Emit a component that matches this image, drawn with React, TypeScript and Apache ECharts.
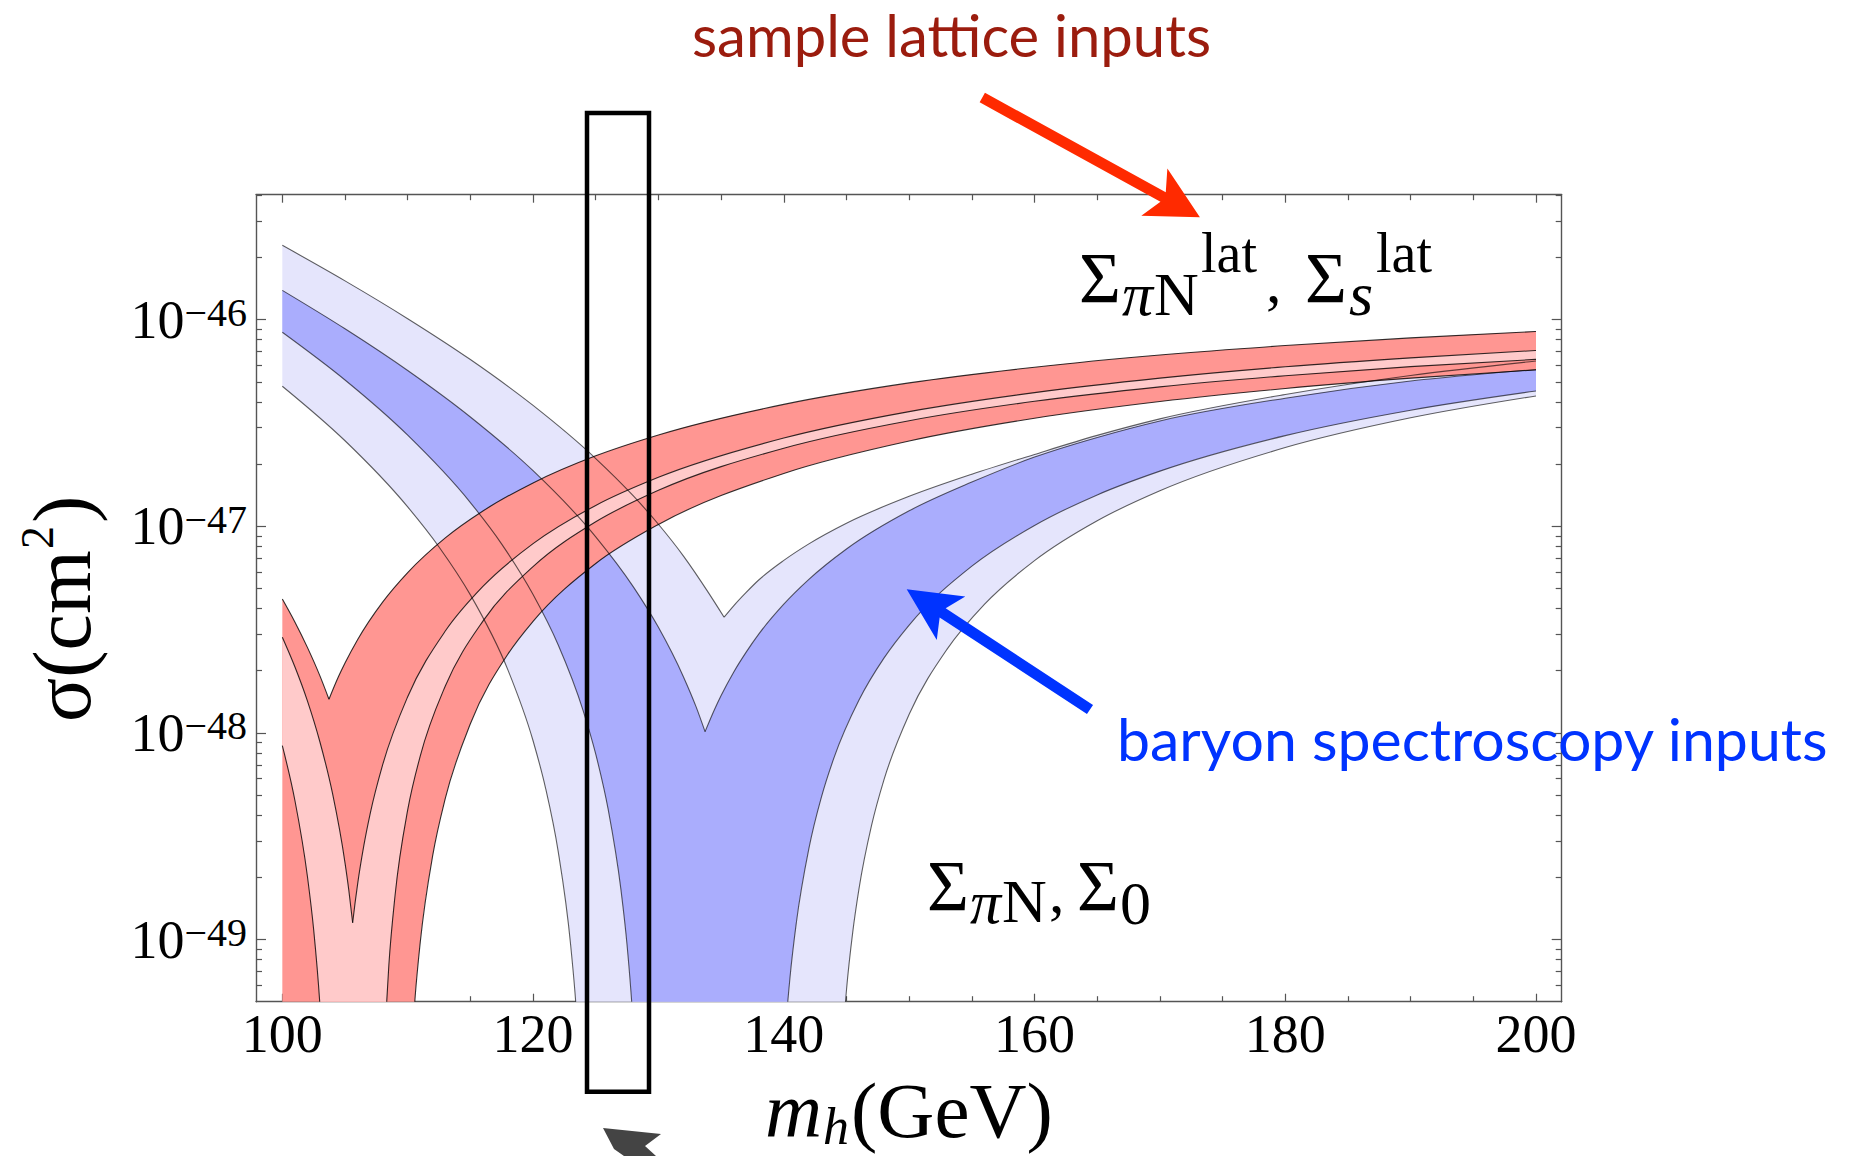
import React, { useEffect, useRef } from "react";
import * as echarts from "echarts";

// ---------- axes (x: m_h in GeV, y: log10 sigma in cm^2) ----------
const X_RANGE = [97.9, 202.05];
const Y_RANGE = [-49.301, -45.395];
const Y_BELOW = -50.2;
const X_MAJOR = [100, 120, 140, 160, 180, 200];
const X_MINOR = [105, 110, 115, 125, 130, 135, 145, 150, 155, 165, 170, 175, 185, 190, 195];
const Y_MAJOR = [-49, -48, -47, -46];
const Y_DECADES = [-50, -49, -48, -47, -46];
const Y_MINOR_MULT = [2, 3, 4, 5, 6, 7, 8, 9];

// ---------- baryon spectroscopy inputs (blue) ----------
// light band, upper edge: left branch to the cusp, right branch from the cusp
const LB_UP_L = [
  [100, -45.64], [105, -45.812], [110, -45.995], [115, -46.193], [120, -46.415], [125, -46.672],
  [128, -46.853], [130, -46.99], [132, -47.144], [134, -47.322], [135.24, -47.44],
];
const LB_UP_R = [
  [135.24, -47.44], [136, -47.385], [137, -47.32], [138, -47.26], [140, -47.165], [142, -47.085],
  [145, -46.985], [150, -46.855], [155, -46.748], [160, -46.652], [165, -46.56], [170, -46.48],
  [180, -46.362], [190, -46.27], [200, -46.2],
];
const DB_UP_L = [
  [100, -45.858], [105, -46.044], [110, -46.246], [115, -46.471], [120, -46.731], [125, -47.051],
  [128, -47.293], [130, -47.489], [132, -47.729], [133, -47.873], [133.72, -47.994],
];
const DB_UP_R = [
  [133.72, -47.994], [134.5, -47.883], [135, -47.819], [136, -47.706], [137, -47.609], [138, -47.522],
  [140, -47.377], [142, -47.257], [145, -47.11], [150, -46.925], [155, -46.786], [160, -46.665],
  [165, -46.57], [170, -46.49], [180, -46.38], [190, -46.297], [200, -46.241],
];
const DB_LO_L = [
  [100, -46.061], [105, -46.292], [110, -46.559], [115, -46.885], [117.5, -47.086], [120, -47.33],
  [122, -47.573], [124, -47.893], [125, -48.103], [126, -48.373], [127, -48.754], [127.5, -49.028],
  [128, -49.426], [128.3, -49.79],
];
const DB_LO_R = [
  [140.0, -49.563], [140.2, -49.389], [140.5, -49.18], [141, -48.919], [142, -48.56], [143, -48.311],
  [144, -48.121], [146, -47.841], [148, -47.637], [150, -47.478], [155, -47.193], [160, -46.996],
  [165, -46.848], [170, -46.733], [180, -46.561], [190, -46.438], [200, -46.345],
];
const LB_LO_L = [
  [100, -46.322], [105, -46.586], [110, -46.906], [112.5, -47.1], [115, -47.332], [118, -47.696],
  [120, -48.038], [121, -48.268], [122, -48.572], [123, -49.028], [123.5, -49.388], [124, -50.0],
];
const LB_LO_R = [
  [144.4, -49.787], [144.6, -49.565], [145, -49.244], [145.5, -48.964], [146, -48.754], [147, -48.448],
  [148, -48.225], [150, -47.91], [153, -47.597], [156, -47.378], [160, -47.166], [165, -46.973],
  [170, -46.828], [180, -46.619], [190, -46.475], [200, -46.369],
];

// ---------- sample lattice inputs (red) ----------
const DR_UP_L = [[100, -47.352], [101, -47.463], [102, -47.586], [103, -47.724], [103.72, -47.837]];
const DR_UP_R = [
  [103.72, -47.837], [104.5, -47.725], [105, -47.662], [106, -47.549], [108, -47.367], [110, -47.224],
  [113, -47.056], [116, -46.926], [120, -46.79], [125, -46.659], [130, -46.558], [140, -46.41],
  [150, -46.306], [160, -46.23], [170, -46.171], [180, -46.125], [190, -46.088], [200, -46.057],
];
const DR_LO_L = [[100, Y_BELOW]];
const DR_LO_R = [
  [110.4, -49.441], [110.6, -49.273], [111, -49.014], [112, -48.592], [113, -48.317], [115, -47.956],
  [118, -47.618], [120, -47.46], [125, -47.18], [130, -46.991], [140, -46.744], [150, -46.587],
  [160, -46.477], [170, -46.396], [180, -46.333], [190, -46.283], [200, -46.243],
];
const LR_UP_L = [
  [100, -47.537], [101, -47.68], [102, -47.845], [103, -48.044], [104, -48.292], [105, -48.629],
  [105.3, -48.76], [105.61, -48.919],
];
const LR_UP_R = [
  [105.61, -48.919], [105.8, -48.824], [106, -48.734], [106.5, -48.546], [107, -48.393], [108, -48.155],
  [110, -47.825], [113, -47.507], [116, -47.291], [120, -47.084], [125, -46.899], [130, -46.763],
  [140, -46.573], [150, -46.445], [160, -46.353], [170, -46.283], [180, -46.228], [190, -46.185],
  [200, -46.149],
];
const LR_LO_L = [
  [100, -48.062], [101, -48.326], [102, -48.694], [102.5, -48.953], [103, -49.318], [103.3, -49.639],
];
const LR_LO_R = [
  [108.2, -49.433], [108.5, -49.121], [109, -48.782], [110, -48.373], [111, -48.112], [113, -47.773],
  [116, -47.459], [120, -47.195], [125, -46.978], [130, -46.826], [140, -46.622], [150, -46.489],
  [160, -46.395], [170, -46.325], [180, -46.271], [190, -46.227], [200, -46.192],
];

const SERIF = "'Liberation Serif','Times New Roman',serif";
const SANS = "Lato,'Open Sans',sans-serif";

// monotone-in-x cubic drawing of a pixel polyline (rendering only)
function monotone(ctx: any, pts: number[][], first: boolean) {
  const n = pts.length;
  if (first) ctx.moveTo(pts[0][0], pts[0][1]);
  else ctx.lineTo(pts[0][0], pts[0][1]);
  if (n < 2) return;
  if (n === 2) {
    ctx.lineTo(pts[1][0], pts[1][1]);
    return;
  }
  const h: number[] = [];
  const s: number[] = [];
  for (let i = 0; i < n - 1; i++) {
    h[i] = pts[i + 1][0] - pts[i][0];
    s[i] = h[i] !== 0 ? (pts[i + 1][1] - pts[i][1]) / h[i] : 0;
  }
  const t: number[] = new Array(n).fill(0);
  for (let i = 1; i < n - 1; i++) {
    const p = (s[i - 1] * h[i] + s[i] * h[i - 1]) / (h[i - 1] + h[i]);
    t[i] = (Math.sign(s[i - 1]) + Math.sign(s[i])) * Math.min(Math.abs(s[i - 1]), Math.abs(s[i]), 0.5 * Math.abs(p)) || 0;
  }
  t[0] = (3 * s[0] - t[1]) / 2;
  t[n - 1] = (3 * s[n - 2] - t[n - 2]) / 2;
  for (let i = 0; i < n - 1; i++) {
    const dx = h[i] / 3;
    ctx.bezierCurveTo(
      pts[i][0] + dx, pts[i][1] + dx * t[i],
      pts[i + 1][0] - dx, pts[i + 1][1] - dx * t[i + 1],
      pts[i + 1][0], pts[i + 1][1]
    );
  }
}

const BandShape = (echarts as any).graphic.extendShape({
  type: "bandShape",
  shape: { parts: [], close: true },
  buildPath(ctx: any, shape: any) {
    const parts = shape.parts || [];
    parts.forEach((part: number[][], i: number) => {
      if (part && part.length) monotone(ctx, part, i === 0);
    });
    if (shape.close) ctx.closePath();
  },
});
(echarts as any).graphic.registerShape("bandShape", BandShape);

function band(name: string, upper: number[][][], lower: number[][][], fill: string, z: number) {
  const parts = [...upper, ...lower.slice().reverse().map((p) => p.slice().reverse())];
  return {
    type: "custom",
    name,
    xAxisIndex: 0,
    yAxisIndex: 0,
    clip: true,
    silent: true,
    z,
    data: [[150, -47]],
    renderItem: (_p: any, api: any) => ({
      type: "bandShape",
      shape: { parts: parts.map((part) => part.map((pt) => api.coord(pt))), close: true },
      style: { fill, stroke: "none" },
    }),
  };
}

function curves(list: [number[][], string][]) {
  return {
    type: "custom",
    name: "edges",
    xAxisIndex: 0,
    yAxisIndex: 0,
    clip: true,
    silent: true,
    z: 10,
    data: [[150, -47]],
    renderItem: (_p: any, api: any) => ({
      type: "group",
      children: list.map(([pts, color]) => ({
        type: "bandShape",
        shape: { parts: [pts.map((pt) => api.coord(pt))], close: false },
        style: { fill: "none", stroke: color, lineWidth: 1.1 },
      })),
    }),
  };
}

let measureCtx: CanvasRenderingContext2D | null = null;
function tw(text: string, font: string) {
  if (!measureCtx) measureCtx = document.createElement("canvas").getContext("2d");
  if (!measureCtx) return text.length * 30;
  measureCtx.font = font;
  return measureCtx.measureText(text).width;
}
const fontOf = (size: number, italic = false, family = SERIF) => `${italic ? "italic " : ""}${size}px ${family}`;

function txt(text: string, x: number, base: number, size: number, opt: any = {}) {
  const family = opt.family || SERIF;
  const k = opt.k ?? (family === SERIF ? 0.34 : 0.39);
  const rot = opt.rotation || 0;
  return {
    type: "text",
    z: 100,
    silent: true,
    x: rot ? base - k * size : x,
    y: rot ? x : base - k * size,
    rotation: rot,
    style: {
      text,
      fill: opt.color || "#000",
      font: fontOf(size, !!opt.italic, family),
      textAlign: "left",
      align: "left",
      textVerticalAlign: "middle",
      verticalAlign: "middle",
    },
  };
}

function arrow(tail: number[], tip: number[], shaftW: number, headLen: number, headW: number, notch: number, color: string) {
  const dx = tip[0] - tail[0], dy = tip[1] - tail[1];
  const L = Math.hypot(dx, dy);
  const ux = dx / L, uy = dy / L;
  const nx = -uy, ny = ux;
  const P = (a: number, b: number) => [tip[0] - ux * a + nx * b, tip[1] - uy * a + ny * b];
  const pts = [
    [tail[0] + nx * shaftW / 2, tail[1] + ny * shaftW / 2],
    P(headLen - notch, shaftW / 2),
    P(headLen, headW),
    tip,
    P(headLen, -headW),
    P(headLen - notch, -shaftW / 2),
    [tail[0] - nx * shaftW / 2, tail[1] - ny * shaftW / 2],
  ];
  return { type: "polygon", z: 100, silent: true, shape: { points: pts }, style: { fill: color } };
}

export default function App() {
  const ref = useRef<HTMLDivElement>(null);
  useEffect(() => {
    if (!ref.current) return;
    const chart = echarts.init(ref.current, undefined, { renderer: "svg" });
    const yMinor = Y_DECADES.flatMap((d) => Y_MINOR_MULT.map((k) => d + Math.log10(k))).filter(
      (v) => v > Y_RANGE[0] && v < Y_RANGE[1]
    );
    const frame = { show: true, onZero: false, lineStyle: { color: "#555", width: 1.4 } };
    const tickStyle = { color: "#555", width: 1.2 };
    const xBase = { type: "value", min: X_RANGE[0], max: X_RANGE[1], splitLine: { show: false } };
    const yBase = { type: "value", min: Y_RANGE[0], max: Y_RANGE[1], splitLine: { show: false } };
    const noLabel = { show: false };

    const piW = tw("\u03C0", fontOf(62, true));
    const mW = tw("m", fontOf(79, true));
    const hW = tw("h", fontOf(52, true));
    const blueEdge = "rgba(0,0,0,0.62)";
    const redEdge = "rgba(0,0,0,0.8)";

    const option: any = {
      animation: false,
      backgroundColor: "#fff",
      grid: { left: 256, top: 194.7, width: 1305.7, height: 807 },
      xAxis: [
        {
          ...xBase, position: "bottom", axisLine: frame,
          axisTick: { show: true, inside: true, length: 8, customValues: X_MAJOR, lineStyle: tickStyle },
          axisLabel: { show: true, customValues: X_MAJOR, fontFamily: SERIF, fontSize: 54, color: "#000", margin: 5 },
        },
        {
          ...xBase, position: "bottom", axisLine: { show: false },
          axisTick: { show: true, inside: true, length: 5.5, customValues: X_MINOR, lineStyle: tickStyle },
          axisLabel: noLabel,
        },
        {
          ...xBase, position: "top", axisLine: frame,
          axisTick: { show: true, inside: true, length: 8, customValues: X_MAJOR, lineStyle: tickStyle },
          axisLabel: noLabel,
        },
        {
          ...xBase, position: "top", axisLine: { show: false },
          axisTick: { show: true, inside: true, length: 5.5, customValues: X_MINOR, lineStyle: tickStyle },
          axisLabel: noLabel,
        },
      ],
      yAxis: [
        {
          ...yBase, position: "left", axisLine: frame,
          axisTick: { show: true, inside: true, length: 10, customValues: Y_MAJOR, lineStyle: tickStyle },
          axisLabel: {
            show: true, customValues: Y_MAJOR, margin: 9,
            formatter: (v: number) => `{b|10}{s|\u2212${Math.round(-v)}}`,
            rich: {
              b: { fontFamily: SERIF, fontSize: 54, color: "#000", lineHeight: 54 },
              s: { fontFamily: SERIF, fontSize: 40, color: "#000", lineHeight: 22, verticalAlign: "top" },
            },
          },
        },
        {
          ...yBase, position: "left", axisLine: { show: false },
          axisTick: { show: true, inside: true, length: 6, customValues: yMinor, lineStyle: tickStyle },
          axisLabel: noLabel,
        },
        {
          ...yBase, position: "right", axisLine: frame,
          axisTick: { show: true, inside: true, length: 10, customValues: Y_MAJOR, lineStyle: tickStyle },
          axisLabel: noLabel,
        },
        {
          ...yBase, position: "right", axisLine: { show: false },
          axisTick: { show: true, inside: true, length: 6, customValues: yMinor, lineStyle: tickStyle },
          axisLabel: noLabel,
        },
      ],
      series: [
        band("light blue", [LB_UP_L, LB_UP_R], [LB_LO_L, LB_LO_R], "#E5E5FC", 1),
        band("dark blue", [DB_UP_L, DB_UP_R], [DB_LO_L, DB_LO_R], "#AAADFD", 2),
        band("dark red", [DR_UP_L, DR_UP_R], [DR_LO_L, DR_LO_R], "#FF9692", 3),
        band("light red", [LR_UP_L, LR_UP_R], [LR_LO_L, LR_LO_R], "#FFCACA", 4),
        curves([
          [LB_UP_L, blueEdge], [LB_UP_R, blueEdge], [DB_UP_L, blueEdge], [DB_UP_R, blueEdge],
          [DB_LO_L, blueEdge], [DB_LO_R, blueEdge], [LB_LO_L, blueEdge], [LB_LO_R, blueEdge],
          [DR_UP_L, redEdge], [DR_UP_R, redEdge], [DR_LO_R, redEdge], [LR_UP_L, redEdge],
          [LR_UP_R, redEdge], [LR_LO_L, redEdge], [LR_LO_R, redEdge],
        ]),
      ],
      graphic: [
        { type: "rect", z: 100, silent: true, shape: { x: 587, y: 113, width: 62, height: 978.7 },
          style: { fill: "none", stroke: "#000", lineWidth: 4.5 } },
        arrow([982.3, 97.5], [1199.9, 217.3], 11, 52, 27, 10, "#FF2A00"),
        arrow([1090, 709.5], [906.7, 589.3], 11, 53, 26, 10, "#0033FF"),
        { type: "polygon", z: 100, silent: true,
          shape: { points: [[603, 1128], [661, 1134], [645, 1146], [656, 1156], [624, 1156], [614, 1149]] },
          style: { fill: "#444" } },
        txt("sample lattice inputs", 692, 57, 58, { family: SANS, color: "#9B1C0E" }),
        txt("baryon spectroscopy inputs", 1117, 762, 59, { family: SANS, color: "#0033FF" }),
        // upper label
        txt("\u03A3", 1079, 302, 72),
        txt("\u03C0", 1122, 315, 62, { italic: true }),
        txt("N", 1122 + piW + 1, 315, 62),
        txt("lat", 1201, 272, 56),
        txt(",", 1266, 302, 62),
        txt("\u03A3", 1305, 302, 72),
        txt("s", 1349, 315, 62, { italic: true }),
        txt("lat", 1376, 272, 56),
        // lower label
        txt("\u03A3", 927, 910, 72),
        txt("\u03C0", 970, 923, 62, { italic: true }),
        txt("N", 970 + piW + 1, 922, 62),
        txt(",", 1049, 912, 62),
        txt("\u03A3", 1077, 910, 72),
        txt("0", 1120, 924, 62),
        // x-axis title
        txt("m", 765, 1137, 79, { italic: true }),
        txt("h", 765 + mW + 1, 1144, 52, { italic: true }),
        txt("(GeV)", 765 + mW + hW + 3, 1137, 79),
        // y-axis title (rotated, reads bottom to top)
        txt("\u03C3(cm", 722, 90, 82, { rotation: Math.PI / 2 }),
        txt("2", 549, 53, 46, { rotation: Math.PI / 2 }),
        txt(")", 523, 90, 82, { rotation: Math.PI / 2 }),
      ],
    };
    chart.setOption(option);
    return () => chart.dispose();
  }, []);
  return <div ref={ref} style={{ position: "absolute", left: 0, top: 0, width: 1859, height: 1156 }} />;
}
